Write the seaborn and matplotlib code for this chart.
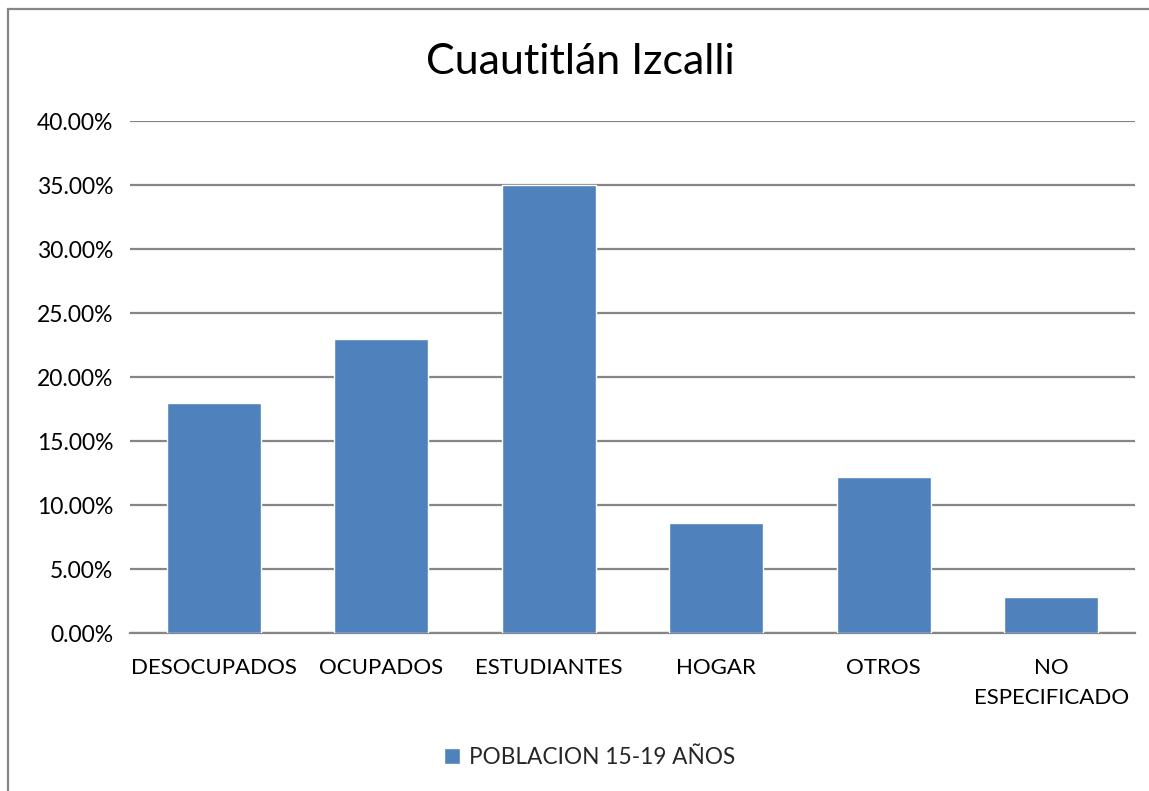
import matplotlib
matplotlib.use("Agg")
import matplotlib.pyplot as plt
import seaborn as sns
import pandas as pd
from matplotlib.patches import Rectangle
from matplotlib.ticker import FuncFormatter

categorias = ["DESOCUPADOS", "OCUPADOS", "ESTUDIANTES", "HOGAR", "OTROS", "NO ESPECIFICADO"]
etiquetas = ["DESOCUPADOS", "OCUPADOS", "ESTUDIANTES", "HOGAR", "OTROS", "NO\nESPECIFICADO"]
porcentajes = [17.95, 22.95, 35.0, 8.6, 12.2, 2.85]
serie = "POBLACION 15-19 AÑOS"
titulo = "Cuautitlán Izcalli"

df = pd.DataFrame({"categoria": categorias, "porcentaje": porcentajes})

sns.set_style("white")
plt.rcParams["font.family"] = ["Lato", "DejaVu Sans"]

fig = plt.figure(figsize=(11.49, 7.91), dpi=100)
ax = fig.add_axes([130 / 1149, 1 - 633 / 791, 1005 / 1149, 512 / 791])

sns.barplot(
    data=df,
    x="categoria",
    y="porcentaje",
    color="#4F81BD",
    saturation=1,
    width=0.56,
    label=serie,
    ax=ax,
    zorder=3,
)

ax.set_xlim(-0.5, len(categorias) - 0.5)
ax.set_ylim(0, 40)
ax.set_yticks(range(0, 41, 5))
ax.yaxis.set_major_formatter(FuncFormatter(lambda v, p: f"{v:.2f}%"))
ax.grid(axis="y", color="#868686", linewidth=1.6, zorder=0)
ax.set_axisbelow(True)
for s in ["top", "right", "left"]:
    ax.spines[s].set_visible(False)
ax.spines["bottom"].set_color("#868686")
ax.spines["bottom"].set_linewidth(1.6)
ax.set_xticks(range(len(etiquetas)))
ax.set_xticklabels(etiquetas, fontsize=16, linespacing=1.65)
ax.tick_params(axis="y", labelsize=16.5, length=0, pad=12, labelcolor="black")
ax.tick_params(axis="x", length=0, pad=18, labelcolor="black")
ax.set_xlabel("")
ax.set_ylabel("")

fig.text(580 / 1149, 1 - 62 / 791, titulo, fontsize=31, ha="center", va="center", color="black")

ax.legend(
    loc="center",
    bbox_to_anchor=(590 / 1149, 1 - 757 / 791),
    bbox_transform=fig.transFigure,
    frameon=False,
    fontsize=16.3,
    handlelength=0.7,
    handleheight=0.7,
    handletextpad=0.4,
)

fig.patches.append(
    Rectangle((8 / 1149, -0.05), 1.2, 1 - 9 / 791 + 0.05, transform=fig.transFigure,
              fill=False, edgecolor="#868686", linewidth=1.6)
)

fig.savefig("out.png", dpi=100)
